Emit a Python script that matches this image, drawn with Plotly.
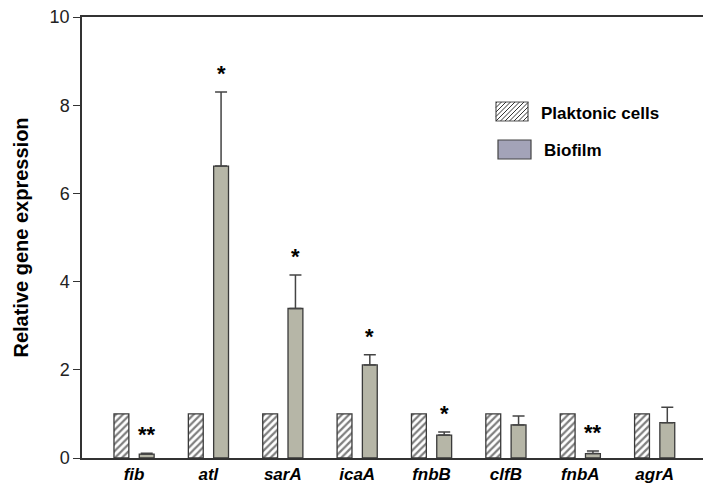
import plotly.graph_objects as go

genes = ["fib", "atl", "sarA", "icaA", "fnbB", "clfB", "fnbA", "agrA"]
planktonic = [1, 1, 1, 1, 1, 1, 1, 1]
biofilm = [0.09, 6.62, 3.39, 2.11, 0.52, 0.75, 0.10, 0.80]
biofilm_err = [0.02, 1.68, 0.76, 0.23, 0.07, 0.20, 0.06, 0.35]
stars = ["**", "*", "*", "*", "*", "", "**", ""]
yticks = [0, 2, 4, 6, 8, 10]

x_idx = list(range(len(genes)))
labels = ["<b><i>%s</i></b>" % g for g in genes]

FONT = "Liberation Sans, Arial"
edge = "#3a3a3a"
fig = go.Figure()
fig.add_trace(go.Bar(
    x=x_idx, y=planktonic, width=0.2, offset=-0.27,
    marker=dict(color="white", line=dict(color=edge, width=1.3),
                pattern=dict(shape="/", fgcolor="#000000", bgcolor="white", size=5, solidity=0.45)),
    name="Plaktonic cells", showlegend=False,
))
fig.add_trace(go.Bar(
    x=x_idx, y=biofilm, width=0.2, offset=0.07,
    marker=dict(color="#b6b6a7", line=dict(color=edge, width=1.3)),
    error_y=dict(type="data", symmetric=False, array=biofilm_err,
                 arrayminus=[0] * len(genes), color="#444444", thickness=1.5, width=6),
    name="Biofilm", showlegend=False,
))

for i, s in enumerate(stars):
    if s:
        fig.add_annotation(x=i + 0.17, y=biofilm[i] + biofilm_err[i], text="<b>%s</b>" % s,
                           showarrow=False, yanchor="bottom", yshift=4,
                           font=dict(size=22, color="black", family=FONT))

# manual legend
L, W, B, H = 82, 621, 458, 441
def px(x): return (x - L) / W
def py(y): return (B - y) / H

fig.add_shape(type="rect", xref="paper", yref="paper", x0=px(496), x1=px(528),
              y0=py(121), y1=py(102), line=dict(color="#555555", width=1.2), fillcolor="white")
bx0, bx1, by0, by1 = 496, 528, 102, 121
for k in range(-5, 10):
    xs = bx0 + k * 4.5
    ax, ay, bxx, byy = xs, by1, xs + (by1 - by0), by0
    if ax < bx0:
        ay = by1 - (bx0 - ax); ax = bx0
    if bxx > bx1:
        byy = by0 + (bxx - bx1); bxx = bx1
    if ax >= bx1 or bxx <= bx0 or ay < by0 or byy > by1:
        continue
    fig.add_shape(type="line", xref="paper", yref="paper",
                  x0=px(ax), x1=px(bxx), y0=py(ay), y1=py(byy),
                  line=dict(color="#333333", width=1))
fig.add_shape(type="rect", xref="paper", yref="paper", x0=px(498), x1=px(531),
              y0=py(159), y1=py(140), line=dict(color="#444444", width=1.2), fillcolor="#a3a3b8")
fig.add_annotation(xref="paper", yref="paper", x=px(539), y=py(113),
                   text="<b>Plaktonic cells</b>", showarrow=False, xanchor="left", yanchor="middle",
                   font=dict(size=17, color="black", family=FONT))
fig.add_annotation(xref="paper", yref="paper", x=px(542), y=py(151),
                   text="<b>Biofilm</b>", showarrow=False, xanchor="left", yanchor="middle",
                   font=dict(size=17, color="black", family=FONT))

fig.update_layout(
    width=703, height=489,
    margin=dict(l=82, r=0, t=17, b=31, autoexpand=False),
    paper_bgcolor="white", plot_bgcolor="white",
    font=dict(family=FONT, color="black"),
    showlegend=False,
    xaxis=dict(range=[-0.7, 7.65], tickmode="array", tickvals=x_idx, ticktext=labels,
               showline=True, linecolor="#333333", linewidth=1.5, mirror=True,
               ticks="", showgrid=False, zeroline=False, automargin=False,
               tickfont=dict(size=17, color="black")),
    yaxis=dict(range=[0, 10], tickvals=yticks, showline=True, linecolor="#333333", linewidth=1.5,
               ticks="outside", ticklen=7, tickcolor="#333333", showgrid=False, zeroline=False,
               automargin=False,
               tickfont=dict(size=18, color="#222222"),
               title=dict(text="<b>Relative gene expression</b>", font=dict(size=20, color="black"),
                          standoff=16)),
)

fig.write_html("out.html", config={"displayModeBar": False},
               post_script="document.body.style.margin='0';document.body.style.overflow='hidden';")
